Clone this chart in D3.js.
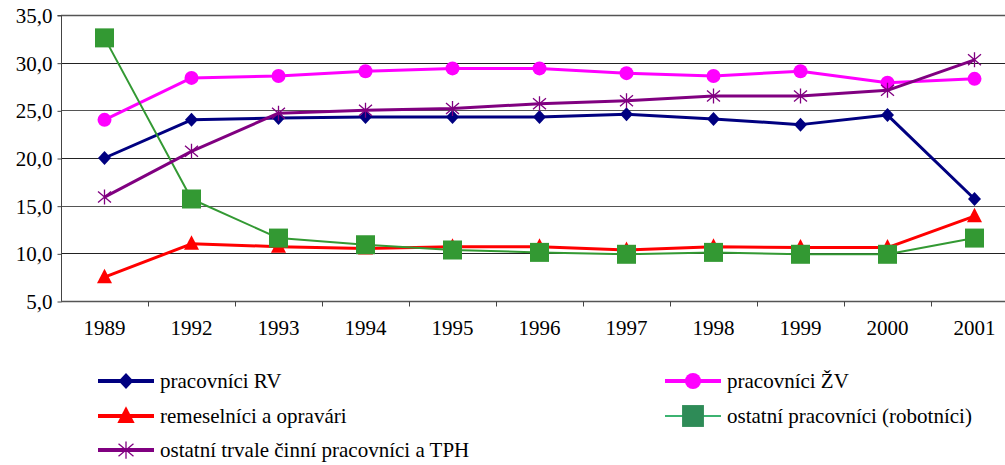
<!DOCTYPE html>
<html>
<head>
<meta charset="utf-8">
<script src="https://cdn.jsdelivr.net/npm/d3@7"></script>
<style>
  html, body { margin: 0; padding: 0; background: #fff; }
  svg { display: block; }
</style>
</head>
<body>
<svg id="chart" width="1005" height="465"></svg>
<script>
// Years on the category axis
const years = ["1989", "1992", "1993", "1994", "1995", "1996", "1997", "1998", "1999", "2000", "2001"];

// Share of employees (%) by group
const pracovniciRV      = [20.0, 24.0, 24.2, 24.3, 24.3, 24.3, 24.6, 24.1, 23.5, 24.5, 15.7];
const pracovniciZV      = [24.0, 28.4, 28.6, 29.1, 29.4, 29.4, 28.9, 28.6, 29.1, 27.9, 28.3];
const remeselnici       = [7.5, 11.0, 10.7, 10.5, 10.7, 10.7, 10.35, 10.7, 10.6, 10.6, 13.9];
const ostatniRobotnici  = [32.6, 15.7, 11.6, 10.9, 10.35, 10.1, 9.9, 10.1, 9.9, 9.9, 11.6];
const ostatniTPH        = [15.9, 20.7, 24.7, 25.0, 25.2, 25.7, 26.0, 26.5, 26.5, 27.1, 30.3];

const yTicks = [5, 10, 15, 20, 25, 30, 35];

const series = [
  { name: "pracovníci RV", values: pracovniciRV, color: "#000080", width: 3, marker: "diamond" },
  { name: "pracovníci ŽV", values: pracovniciZV, color: "#FF00FF", width: 3, marker: "circle" },
  { name: "remeselníci a opravári", values: remeselnici, color: "#FF0000", width: 3, marker: "triangle" },
  { name: "ostatní pracovníci (robotníci)", values: ostatniRobotnici, color: "#339933", width: 2, marker: "square",
    legendLine: "#3CB371", legendMarker: "#2E8B57", legendWidth: 2 },
  { name: "ostatní trvale činní pracovníci a TPH", values: ostatniTPH, color: "#800080", width: 3, marker: "asterisk" }
];

const FONT = "'Liberation Serif', 'Times New Roman', serif";

const svg = d3.select("#chart");
const plot = { left: 61, right: 1018, top: 15, bottom: 301 };

const x = d3.scaleBand().domain(years).range([plot.left, plot.right]);
const y = d3.scaleLinear().domain([5, 35]).range([plot.bottom, plot.top]);
const cx = d => x(d) + x.bandwidth() / 2;

// Horizontal gridlines
svg.append("g")
  .selectAll("line")
  .data(yTicks)
  .join("line")
  .attr("x1", plot.left).attr("x2", plot.right)
  .attr("y1", d => Math.round(y(d)) + 0.5).attr("y2", d => Math.round(y(d)) + 0.5)
  .attr("stroke", (d, i) => i % 2 === 0 ? "#555" : "#222")
  .attr("stroke-width", (d, i) => d === 35 ? 1.4 : 1);

// Y axis
const yAxis = d3.axisLeft(y)
  .tickValues(yTicks)
  .tickSize(4)
  .tickPadding(5)
  .tickFormat(d => d3.format(".1f")(d).replace(".", ","));
const gy = svg.append("g").attr("transform", `translate(${plot.left + 0.5},0.5)`).call(yAxis);
gy.attr("font-family", FONT).attr("font-size", 21);
gy.select(".domain").attr("stroke", "#444").attr("d", `M-4,${y(35)}H0V${y(5)}`);
gy.selectAll(".tick line").attr("stroke", "#444");
gy.selectAll(".tick text").attr("fill", "#000").attr("dy", "0.33em");

// X axis: ticks on band boundaries, labels centered under points
const gx = svg.append("g")
  .attr("transform", `translate(0,${Math.round(plot.bottom) + 0.5})`)
  .attr("font-family", FONT).attr("font-size", 21);
gx.append("line").attr("x1", plot.left).attr("x2", plot.right).attr("stroke", "#555").attr("stroke-width", 1.4);
gx.selectAll("line.tk")
  .data(years.slice(1))
  .join("line")
  .attr("class", "tk")
  .attr("x1", d => Math.round(x(d)) + 0.5).attr("x2", d => Math.round(x(d)) + 0.5)
  .attr("y1", 0).attr("y2", 5)
  .attr("stroke", "#444");
gx.selectAll("text")
  .data(years)
  .join("text")
  .attr("x", d => cx(d))
  .attr("y", 33)
  .attr("text-anchor", "middle")
  .text(d => d);

// Marker drawing; k scales the glyph (legend keys are a bit larger)
function drawMarker(g, type, color, k = 1) {
  switch (type) {
    case "diamond":
      g.append("path").attr("d", `M0,${-7*k}L${6.5*k},0L0,${7*k}L${-6.5*k},0Z`).attr("fill", color);
      break;
    case "circle":
      g.append("circle").attr("r", 7 * k).attr("fill", color);
      break;
    case "triangle":
      g.append("path").attr("d", `M0,${-8.5*k}L${7.5*k},${6*k}L${-7.5*k},${6*k}Z`).attr("fill", color);
      break;
    case "square":
      g.append("rect").attr("x", -9.5 * k).attr("y", -9.5 * k)
        .attr("width", 19 * k).attr("height", 19 * k).attr("fill", color);
      break;
    case "asterisk":
      g.append("path")
        .attr("d", `M0,${-7.5*k}V${7.5*k}M${-6.5*k},${-5.5*k}L${6.5*k},${5.5*k}M${-6.5*k},${5.5*k}L${6.5*k},${-5.5*k}`)
        .attr("stroke", color).attr("stroke-width", 1.3).attr("fill", "none");
      break;
  }
}

const line = d3.line().x((d, i) => cx(years[i])).y(d => y(d));

// Lines, then markers for each series
series.forEach(s => {
  const g = svg.append("g");
  g.append("path")
    .attr("d", line(s.values))
    .attr("fill", "none")
    .attr("stroke", s.color)
    .attr("stroke-width", s.width)
    .attr("stroke-linejoin", "round");
  s.values.forEach((v, i) => {
    const m = g.append("g").attr("transform", `translate(${cx(years[i])},${y(v)})`);
    drawMarker(m, s.marker, s.color);
  });
});

// Legend
const legendPos = [
  { x: 98, y: 381 }, { x: 665, y: 381 },
  { x: 98, y: 416 }, { x: 665, y: 416 },
  { x: 98, y: 450 }
];
series.forEach((s, i) => {
  const p = legendPos[i];
  const g = svg.append("g").attr("transform", `translate(${p.x},${p.y})`);
  g.append("line").attr("x1", 0).attr("x2", 56).attr("y1", 0).attr("y2", 0)
    .attr("stroke", s.legendLine || s.color).attr("stroke-width", s.legendWidth || 4);
  const m = g.append("g").attr("transform", "translate(28,0)");
  drawMarker(m, s.marker, s.legendMarker || s.color, 1.15);
  g.append("text").attr("x", 62).attr("y", 0).attr("dy", "0.33em")
    .attr("font-family", FONT).attr("font-size", 21).text(s.name);
});
</script>
</body>
</html>
